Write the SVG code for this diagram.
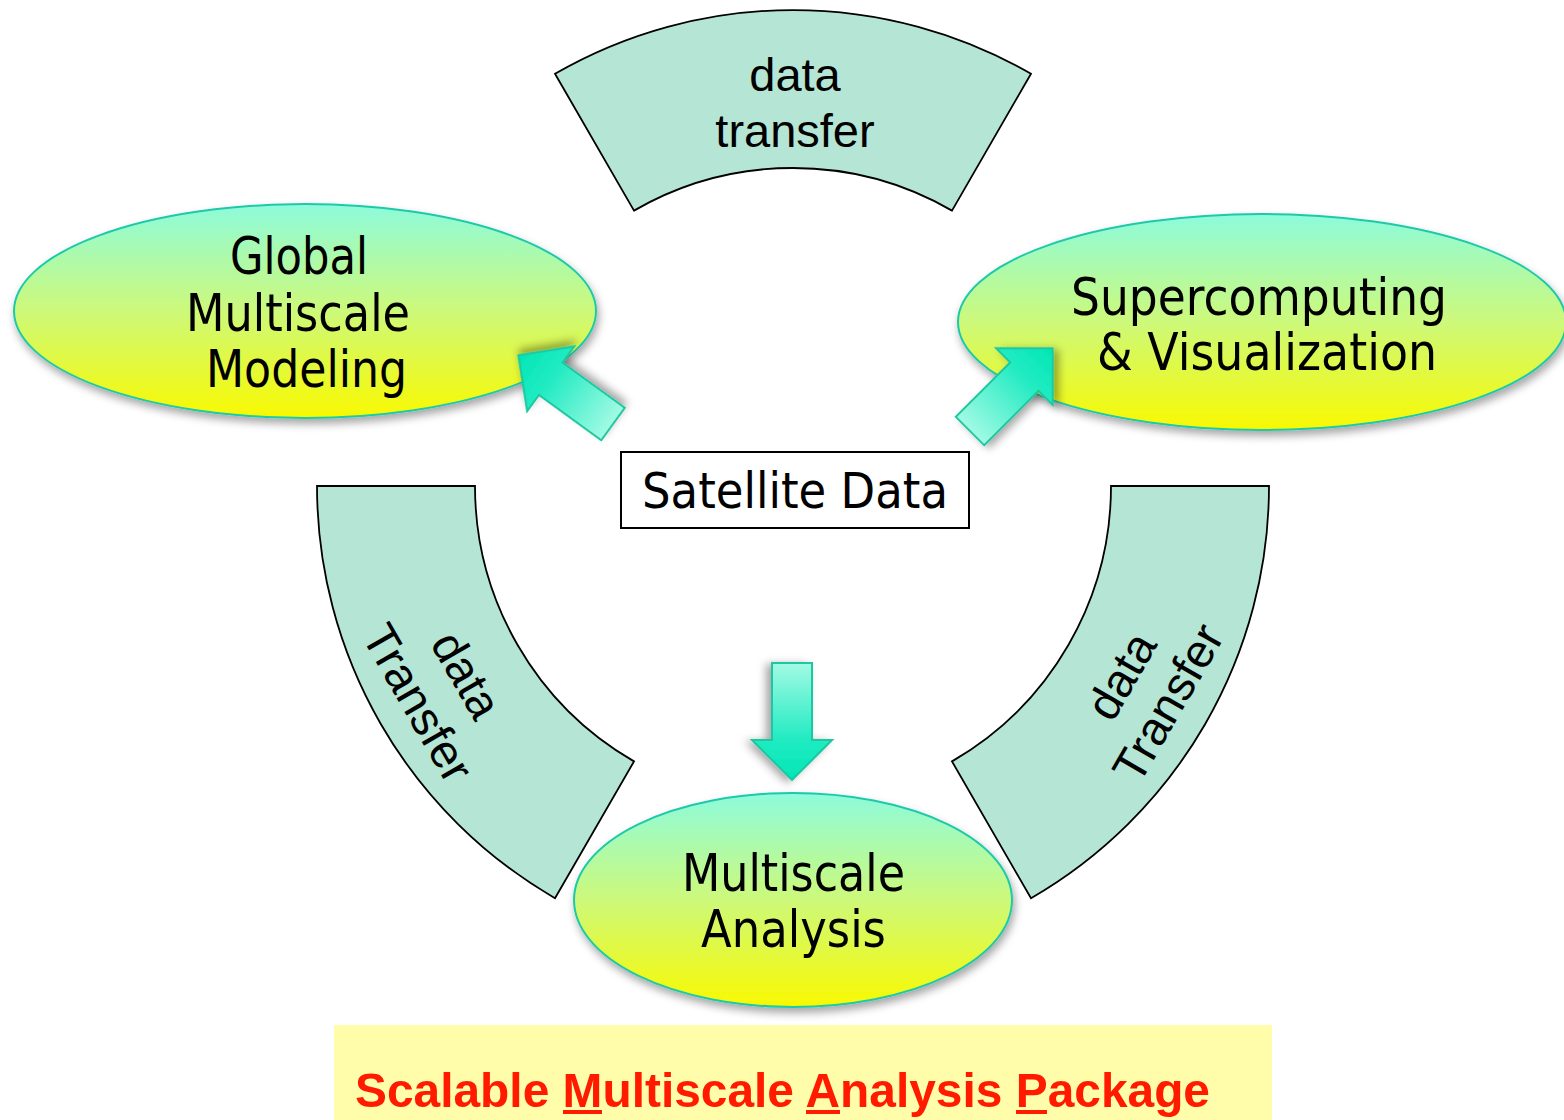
<svg xmlns="http://www.w3.org/2000/svg" width="1564" height="1120" viewBox="0 0 1564 1120">
  <defs>
    <linearGradient id="ovalFill" x1="0" y1="0" x2="0" y2="1">
      <stop offset="0" stop-color="#8dfbdc"/>
      <stop offset="0.5" stop-color="#cdf97a"/>
      <stop offset="1" stop-color="#f9f900"/>
    </linearGradient>
    <linearGradient id="arrowFill" x1="0" y1="0" x2="1" y2="0">
      <stop offset="0" stop-color="#a2fae4"/>
      <stop offset="0.65" stop-color="#22ebc2"/>
      <stop offset="1" stop-color="#00e6b6"/>
    </linearGradient>
    <filter id="shadow" x="-15%" y="-15%" width="135%" height="145%">
      <feDropShadow dx="2" dy="5" stdDeviation="4" flood-color="#000" flood-opacity="0.35"/>
    </filter>
    <!-- block arrow pointing along +x, tail at origin -->
    <path id="blockArrow" d="M0,-20 L77,-20 L77,-40 L117,0 L77,40 L77,20 L0,20 Z"/>
  </defs>
  <style>
    .oval { fill: url(#ovalFill); stroke: #1fc9a9; stroke-width: 2; filter: url(#shadow); }
    .oval-text { font-family: "DejaVu Sans", "Noto Sans", sans-serif; font-size: 52px; fill: #000; }
    .band { fill: #b5e5d5; stroke: #000; stroke-width: 1.8; }
    .band-text { font-family: "Liberation Sans", Arial, sans-serif; font-size: 47px; fill: #000; text-anchor: middle; }
    .arrow { fill: url(#arrowFill); stroke: #1ec8a0; stroke-width: 2; filter: url(#shadow); }
    .uline { fill: #ff1a00; }
  </style>

  <rect width="1564" height="1120" fill="#ffffff"/>

  <!-- annular bands, centre (793,486), radii 476 / 318 -->
  <g id="band-top">
    <path class="band" d="M555,73.8 A476,476 0 0 1 1031,73.8 L952,210.6 A318,318 0 0 0 634,210.6 Z"/>
    <text class="band-text" x="795" y="91">data</text>
    <text class="band-text" x="795" y="147">transfer</text>
  </g>
  <g id="band-left">
    <path class="band" d="M475,486 L317,486 A476,476 0 0 0 555,898.2 L634,761.4 A318,318 0 0 1 475,486 Z"/>
    <g transform="translate(449,685) rotate(60)">
      <text class="band-text" x="0" y="-4">data</text>
      <text class="band-text" x="0" y="52">Transfer</text>
    </g>
  </g>
  <g id="band-right">
    <path class="band" d="M1111,486 L1269,486 A476,476 0 0 1 1031,898.2 L952,761.4 A318,318 0 0 0 1111,486 Z"/>
    <g transform="translate(1137,685) rotate(-60)">
      <text class="band-text" x="0" y="-2">data</text>
      <text class="band-text" x="0" y="52">Transfer</text>
    </g>
  </g>

  <g id="global-modeling">
    <ellipse class="oval" cx="305" cy="311" rx="291" ry="107"/>
    <text class="oval-text" x="230" y="274" textLength="138" lengthAdjust="spacingAndGlyphs">Global</text>
    <text class="oval-text" x="186" y="331" textLength="224" lengthAdjust="spacingAndGlyphs">Multiscale</text>
    <text class="oval-text" x="206" y="387" textLength="201" lengthAdjust="spacingAndGlyphs">Modeling</text>
  </g>

  <g id="supercomputing">
    <ellipse class="oval" cx="1262" cy="322" rx="304" ry="108"/>
    <text class="oval-text" x="1071" y="315" textLength="376" lengthAdjust="spacingAndGlyphs">Supercomputing</text>
    <text class="oval-text" x="1097" y="370" textLength="340" lengthAdjust="spacingAndGlyphs">&amp; Visualization</text>
  </g>

  <g id="multiscale-analysis">
    <ellipse class="oval" cx="793" cy="900" rx="219" ry="107"/>
    <text class="oval-text" x="682" y="891" textLength="223" lengthAdjust="spacingAndGlyphs">Multiscale</text>
    <text class="oval-text" x="701" y="947" textLength="185" lengthAdjust="spacingAndGlyphs">Analysis</text>
  </g>

  <g id="satellite-data">
    <rect x="621" y="452" width="348" height="76" fill="#fff" stroke="#000" stroke-width="2"/>
    <text x="642" y="508" font-family="DejaVu Sans, Noto Sans, sans-serif" font-size="50" textLength="306" lengthAdjust="spacingAndGlyphs" fill="#000">Satellite Data</text>
  </g>

  <g id="connectors">
    <use href="#blockArrow" class="arrow" transform="translate(613,424) rotate(216)"/>
    <use href="#blockArrow" class="arrow" transform="translate(970,431) rotate(-45)"/>
    <use href="#blockArrow" class="arrow" transform="translate(792,663) rotate(90)"/>
  </g>

  <g id="package-banner">
    <rect x="334" y="1025" width="938" height="95" fill="#fffcaa"/>
    <text x="355" y="1107" font-family="Liberation Sans, Arial, sans-serif" font-weight="bold" font-size="49" fill="#ff1a00" textLength="855" lengthAdjust="spacingAndGlyphs">Scalable Multiscale Analysis Package</text>
    <!-- underlines beneath the initials M, A, P -->
    <rect class="uline" x="563" y="1110" width="39" height="4"/>
    <rect class="uline" x="806" y="1110" width="34" height="4"/>
    <rect class="uline" x="1016" y="1110" width="31" height="4"/>
  </g>
</svg>
